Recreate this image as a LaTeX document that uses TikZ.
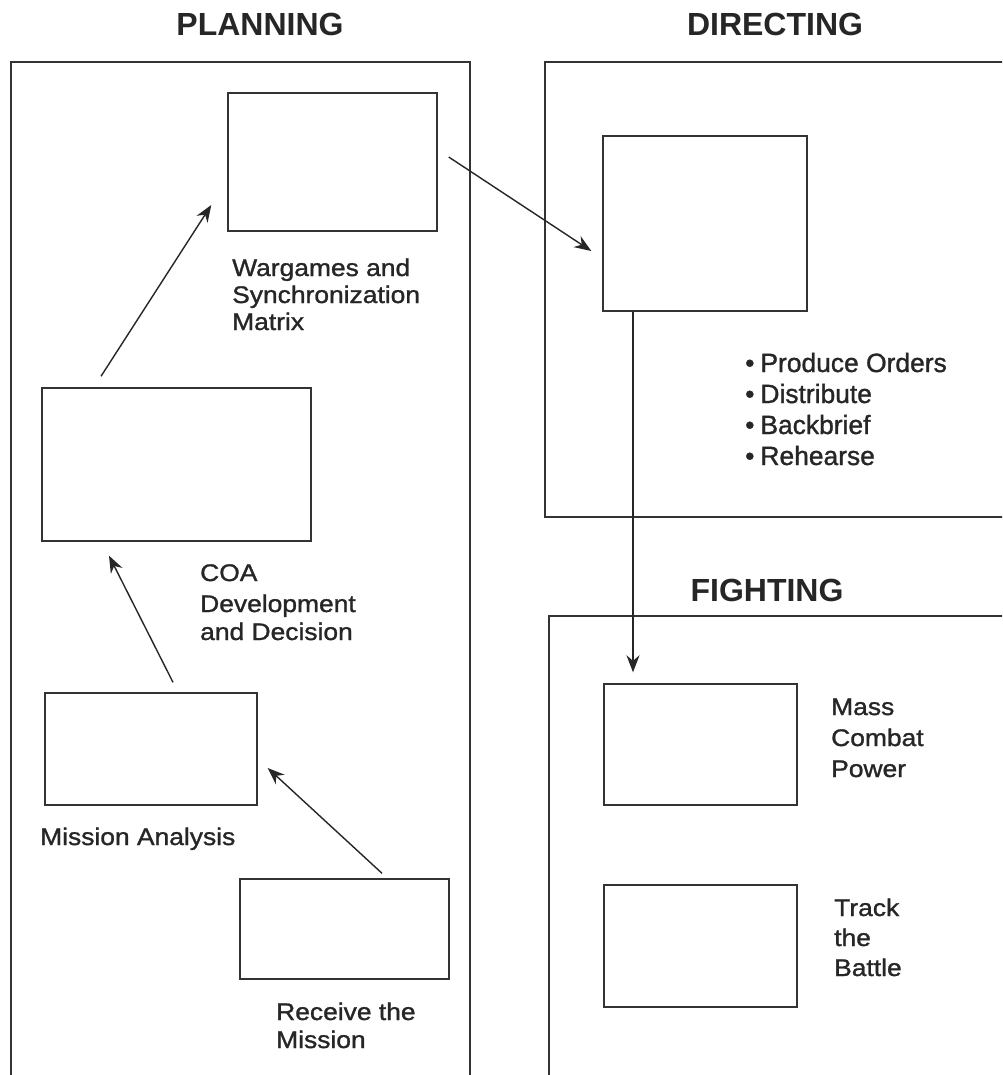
\documentclass[tikz,border=0pt]{standalone}
\usepackage{fontspec}
\setmainfont{Liberation Sans}
\newfontfamily\lblfont[FakeStretch=1.1,FakeBold=1.2]{Liberation Sans}
\newfontfamily\bltfont[FakeBold=1.2]{Liberation Sans}
\usetikzlibrary{arrows.meta,calc}
\tikzset{
  frame/.style={draw=black!80, line width=1.6pt},
  stage/.style={draw=black!80, line width=1.4pt, rectangle, inner sep=0pt},
  arr/.style={draw=black!85, line width=1.4pt, -{Stealth[length=17pt,width=13pt]}},
  title/.style={font=\fontsize{32}{36}\selectfont\bfseries, text=black!85, inner sep=0pt, anchor=base},
  lbl/.style={font=\lblfont\fontsize{24}{28}\selectfont, text=black!85, inner sep=0pt, anchor=base west},
  blt/.style={font=\bltfont\fontsize{26.4}{30}\selectfont, text=black!85, inner sep=0pt, anchor=base west}
}
\begin{document}
\begin{tikzpicture}[x=1pt,y=-1pt]
\useasboundingbox (0,0) rectangle (1002,1075);
\clip (0,0) rectangle (1002,1075);
\fill[white] (0,0) rectangle (1002,1075);
% outer frames
\draw[frame] (11,1090) -- (11,62) -- (470,62) -- (470,1090);
\draw[frame] (1010,62) -- (545,62) -- (545,517) -- (1010,517);
\draw[frame] (549,1090) -- (549,616) -- (1010,616);
% titles
\node[title] (tplan) at (260,36) {PLANNING};
\node[title] (tdir) at (775,36) {DIRECTING};
\node[title] (tfig) at (767,601) {FIGHTING};
% stage boxes
\node[stage, minimum width=209pt, minimum height=138pt] (wg) at (332.5,162) {};
\node[stage, minimum width=204pt, minimum height=175pt] (dir) at (705,223.5) {};
\node[stage, minimum width=269pt, minimum height=153pt] (coa) at (176.5,464.5) {};
\node[stage, minimum width=212pt, minimum height=112pt] (ma) at (151,749) {};
\node[stage, minimum width=209pt, minimum height=100pt] (rcv) at (344.5,929) {};
\node[stage, minimum width=193pt, minimum height=121pt] (mcp) at (700.5,744.5) {};
\node[stage, minimum width=193pt, minimum height=122pt] (trk) at (700.5,946) {};
% labels
\node[lbl] (wg1) at (232,276) {Wargames and};
\node[lbl] (wg2) at (232,303) {Synchronization};
\node[lbl] (wg3) at (232,330) {Matrix};
\node[lbl] (coa1) at (200,581) {COA};
\node[lbl] (coa2) at (200,612) {Development};
\node[lbl] (coa3) at (200,640) {and Decision};
\node[lbl] (ma1) at (40,845) {Mission Analysis};
\node[lbl] (rcv1) at (276,1020) {Receive the};
\node[lbl] (rcv2) at (276,1048) {Mission};
\node[lbl] (mcp1) at (831,715) {Mass};
\node[lbl] (mcp2) at (831,746) {Combat};
\node[lbl] (mcp3) at (831,777) {Power};
\node[lbl] (trk1) at (834,916) {Track};
\node[lbl] (trk2) at (834,946) {the};
\node[lbl] (trk3) at (834,976) {Battle};
\node[blt] (b1) at (745,372) {•\kern6pt Produce Orders};
\node[blt] (b2) at (745,403) {•\kern6pt Distribute};
\node[blt] (b3) at (745,434) {•\kern6pt Backbrief};
\node[blt] (b4) at (745,465) {•\kern6pt Rehearse};
% connectors
\draw[arr] ([xshift=37.5pt,yshift=5pt]rcv.north) -- ([xshift=10pt,yshift=-19pt]ma.east);
\draw[arr] ([xshift=22pt,yshift=10pt]ma.north) -- ([xshift=-67.5pt,yshift=-14pt]coa.south);
\draw[arr] ([xshift=-75.5pt,yshift=11pt]coa.north) -- ([xshift=-16pt,yshift=-43pt]wg.west);
\draw[arr] ([xshift=11pt,yshift=5pt]wg.east) -- ([xshift=-11pt,yshift=-27.5pt]dir.west);
\draw[arr] ([xshift=-72pt]dir.south) -- ([xshift=-67.5pt,yshift=11pt]mcp.north);
\end{tikzpicture}
\end{document}
